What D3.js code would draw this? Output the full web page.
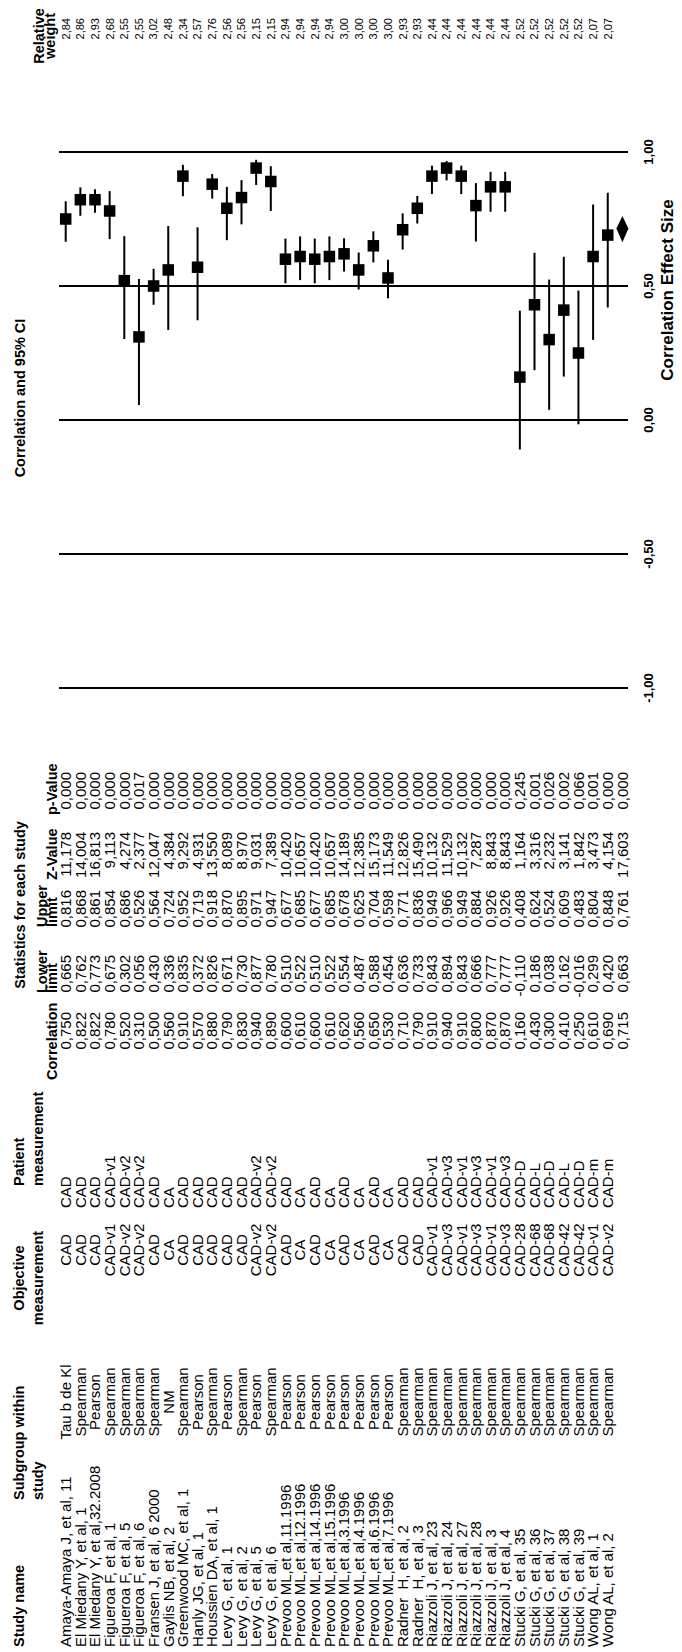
<!DOCTYPE html>
<html>
<head>
<meta charset="utf-8">
<script src="https://cdn.jsdelivr.net/npm/d3@7"></script>
<style>
  body { margin: 0; background: #fff; }
  text { font-family: "Liberation Sans", Arial, sans-serif; fill: #000; white-space: pre; }
</style>
</head>
<body>
<svg id="forest" width="682" height="1652"></svg>
<script>
// rows of the forest plot, top to bottom in the original (left to right here)
const studies = [
  "Amaya-Amaya J, et al, 11", "El Miedany Y, et al, 1", "El Miedany Y, et al,32.2008",
  "Figueroa F, et al, 1", "Figueroa F, et al, 5", "Figueroa F, et al, 6",
  "Fransen J, et al, 6 2000", "Gaylis NB, et al, 2", "Greenwood MC, et al, 1",
  "Hanly JG, et al, 1", "Houssien DA, et al, 1", "Levy G, et al, 1", "Levy G, et al, 2",
  "Levy G, et al, 5", "Levy G, et al, 6", "Prevoo ML,et al,11.1996", "Prevoo ML,et al,12.1996",
  "Prevoo ML,et al,14.1996", "Prevoo ML,et al,15.1996", "Prevoo ML,et al,3.1996",
  "Prevoo ML,et al,4.1996", "Prevoo ML,et al,6.1996", "Prevoo ML,et al,7.1996",
  "Radner  H, et al, 2", "Radner  H, et al, 3", "Riazzoli J, et al, 23", "Riazzoli J, et al, 24",
  "Riazzoli J, et al, 27", "Riazzoli J, et al, 28", "Riazzoli J, et al, 3", "Riazzoli J, et al, 4",
  "Stucki G, et al, 35", "Stucki G, et al, 36", "Stucki G, et al, 37", "Stucki G, et al, 38",
  "Stucki G, et al, 39", "Wong AL, et al, 1", "Wong AL, et al, 2"
];
const subgroups = [
  "Tau b de Kl", "Spearman", "Pearson", "Spearman", "Spearman", "Spearman", "Spearman", "NM",
  "Spearman", "Pearson", "Spearman", "Pearson", "Spearman", "Pearson", "Spearman",
  "Pearson", "Pearson", "Pearson", "Pearson", "Pearson", "Pearson", "Pearson", "Pearson",
  "Spearman", "Spearman", "Spearman", "Spearman", "Spearman", "Spearman", "Spearman", "Spearman",
  "Spearman", "Spearman", "Spearman", "Spearman", "Spearman", "Spearman", "Spearman"
];
const objective = [
  "CAD", "CAD", "CAD", "CAD-v1", "CAD-v2", "CAD-v2", "CAD", "CA", "CAD", "CAD", "CAD", "CAD", "CAD",
  "CAD-v2", "CAD-v2", "CAD", "CA", "CAD", "CA", "CAD", "CA", "CAD", "CA", "CAD", "CAD",
  "CAD-v1", "CAD-v3", "CAD-v1", "CAD-v3", "CAD-v1", "CAD-v3",
  "CAD-28", "CAD-68", "CAD-68", "CAD-42", "CAD-42", "CAD-v1", "CAD-v2"
];
const patient = [
  "CAD", "CAD", "CAD", "CAD-v1", "CAD-v2", "CAD-v2", "CAD", "CA", "CAD", "CAD", "CAD", "CAD", "CAD",
  "CAD-v2", "CAD-v2", "CAD", "CA", "CAD", "CA", "CAD", "CA", "CAD", "CA", "CAD", "CAD",
  "CAD-v1", "CAD-v3", "CAD-v1", "CAD-v3", "CAD-v1", "CAD-v3",
  "CAD-D", "CAD-L", "CAD-D", "CAD-L", "CAD-D", "CAD-m", "CAD-m"
];
const correlation = [0.750, 0.822, 0.822, 0.780, 0.520, 0.310, 0.500, 0.560, 0.910, 0.570, 0.880,
  0.790, 0.830, 0.940, 0.890, 0.600, 0.610, 0.600, 0.610, 0.620, 0.560, 0.650, 0.530, 0.710, 0.790,
  0.910, 0.940, 0.910, 0.800, 0.870, 0.870, 0.160, 0.430, 0.300, 0.410, 0.250, 0.610, 0.690];
const lower = [0.665, 0.762, 0.773, 0.675, 0.302, 0.056, 0.430, 0.336, 0.835, 0.372, 0.826,
  0.671, 0.730, 0.877, 0.780, 0.510, 0.522, 0.510, 0.522, 0.554, 0.487, 0.588, 0.454, 0.636, 0.733,
  0.843, 0.894, 0.843, 0.666, 0.777, 0.777, -0.110, 0.186, 0.038, 0.162, -0.016, 0.299, 0.420];
const upper = [0.816, 0.868, 0.861, 0.854, 0.686, 0.526, 0.564, 0.724, 0.952, 0.719, 0.918,
  0.870, 0.895, 0.971, 0.947, 0.677, 0.685, 0.677, 0.685, 0.678, 0.625, 0.704, 0.598, 0.771, 0.836,
  0.949, 0.966, 0.949, 0.884, 0.926, 0.926, 0.408, 0.624, 0.524, 0.609, 0.483, 0.804, 0.848];
const zValue = [11.178, 14.004, 16.813, 9.113, 4.274, 2.377, 12.047, 4.384, 9.292, 4.931, 13.550,
  8.089, 8.970, 9.031, 7.389, 10.420, 10.657, 10.420, 10.657, 14.189, 12.385, 15.173, 11.549, 12.826,
  15.490, 10.132, 11.529, 10.132, 7.287, 8.843, 8.843, 1.164, 3.316, 2.232, 3.141, 1.842, 3.473, 4.154];
const pValue = [0.000, 0.000, 0.000, 0.000, 0.000, 0.017, 0.000, 0.000, 0.000, 0.000, 0.000,
  0.000, 0.000, 0.000, 0.000, 0.000, 0.000, 0.000, 0.000, 0.000, 0.000, 0.000, 0.000, 0.000, 0.000,
  0.000, 0.000, 0.000, 0.000, 0.000, 0.000, 0.245, 0.001, 0.026, 0.002, 0.066, 0.001, 0.000];
const weight = [2.84, 2.86, 2.93, 2.68, 2.55, 2.55, 3.02, 2.48, 2.34, 2.57, 2.76, 2.56, 2.56, 2.15,
  2.15, 2.94, 2.94, 2.94, 2.94, 3.00, 3.00, 3.00, 3.00, 2.93, 2.93, 2.44, 2.44, 2.44, 2.44, 2.44,
  2.44, 2.52, 2.52, 2.52, 2.52, 2.52, 2.07, 2.07];

// pooled estimate (last row)
const pooled = [0.715, 0.663, 0.761, 17.603, 0.000];
const axisTicks = [-1, -0.5, 0, 0.5, 1];

const loc = d3.formatLocale({decimal: ",", thousands: ".", grouping: [3], currency: ["", ""], minus: "-"});
const f3 = loc.format(".3f"), f2 = loc.format(".2f");

const svg = d3.select("#forest");
const nRows = studies.length;

// rows run across the page, correlation runs up the page
const row = d3.scaleLinear().domain([0, nRows]).range([65.7, 622.4]);
const r = d3.scaleLinear().domain([-1, 1]).range([688, 152]);

// rotated text helper: anchor "start" = text grows upward from y
function vtext(g, x, y, str, size, anchor, bold) {
  return g.append("text")
    .attr("transform", `translate(${x},${y}) rotate(-90)`)
    .attr("dy", "0.35em")
    .attr("text-anchor", anchor)
    .attr("font-size", size)
    .attr("font-weight", bold ? "bold" : "normal")
    .text(str);
}

const hdr = svg.append("g");
const H = 14.5;
vtext(hdr, 19, 1647, "Study name", H, "start", true);
vtext(hdr, 19, 1500, "Subgroup within", H, "start", true);
vtext(hdr, 38, 1500, "study", H, "start", true);
vtext(hdr, 19, 1278, "Objective", H, "middle", true);
vtext(hdr, 38, 1278, "measurement", H, "middle", true);
vtext(hdr, 19, 1186, "Patient", H, "start", true);
vtext(hdr, 38, 1186, "measurement", H, "start", true);
vtext(hdr, 20, 905, "Statistics for each study", H, "middle", true);
vtext(hdr, 52, 1080, "Correlation", H, "start", true);
vtext(hdr, 42, 993, "Lower", H, "start", true);
vtext(hdr, 52, 993, "limit", H, "start", true);
vtext(hdr, 42, 927, "Upper", H, "start", true);
vtext(hdr, 52, 927, "limit", H, "start", true);
vtext(hdr, 52, 880, "Z-Value", H, "start", true);
vtext(hdr, 52, 815, "p-Value", H, "start", true);
vtext(hdr, 20, 398, "Correlation and 95% CI", H, "middle", true);
vtext(hdr, 39, 36, "Relative", H, "middle", true);
vtext(hdr, 50, 36, "weight", H, "middle", true);

// table body
const T = 15;
const body = svg.append("g");
d3.range(nRows).forEach(i => {
  const x = row(i);
  vtext(body, x, 1647, studies[i], T, "start");
  vtext(body, x, 1402, subgroups[i], T, "middle");
  vtext(body, x, 1250, objective[i], T, "middle");
  vtext(body, x, 1208, patient[i], T, "start");
  vtext(body, x, 1012, f3(correlation[i]), T, "end");
  vtext(body, x, 955, f3(lower[i]), T, "end");
  vtext(body, x, 890, f3(upper[i]), T, "end");
  vtext(body, x, 832, f3(zValue[i]), T, "end");
  vtext(body, x, 772, f3(pValue[i]), T, "end");
  vtext(body, x, 18, f2(weight[i]), 11, "end");
});
const xs = row(nRows);
[1012, 955, 890, 832, 772].forEach((y, k) => vtext(body, xs, y, f3(pooled[k]), T, "end"));

// reference lines and their labels
const grid = svg.append("g");
grid.selectAll("line").data(axisTicks).enter().append("line")
  .attr("x1", 59).attr("x2", 628)
  .attr("y1", d => r(d)).attr("y2", d => r(d))
  .attr("stroke", "#000").attr("stroke-width", 2);
axisTicks.forEach(t => vtext(grid, 648, r(t), f2(t), 13, "middle", true));
vtext(grid, 667, 290, "Correlation Effect Size", 17, "middle", true);

// study markers
const marks = svg.append("g");
marks.selectAll("line").data(d3.range(nRows)).enter().append("line")
  .attr("x1", i => row(i)).attr("x2", i => row(i))
  .attr("y1", i => r(lower[i])).attr("y2", i => r(upper[i]))
  .attr("stroke", "#000").attr("stroke-width", 2);
const side = 11.5;
marks.selectAll("rect").data(d3.range(nRows)).enter().append("rect")
  .attr("x", i => row(i) - side / 2).attr("y", i => r(correlation[i]) - side / 2)
  .attr("width", side).attr("height", side).attr("fill", "#000");

// pooled diamond
marks.append("path")
  .attr("fill", "#000")
  .attr("d", `M${xs},${r(pooled[2])} L${xs + 6},${r(pooled[0])} L${xs},${r(pooled[1])} L${xs - 6},${r(pooled[0])} Z`);
</script>
</body>
</html>
